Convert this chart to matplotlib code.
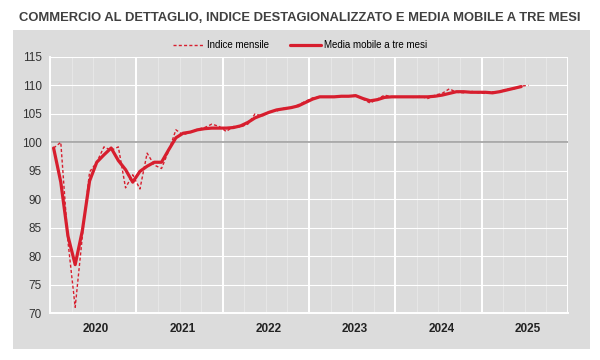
"""Commercio al dettaglio: indice destagionalizzato e media mobile a tre mesi."""

import matplotlib

matplotlib.use("Agg")
import matplotlib.pyplot as plt
from matplotlib.ticker import FixedLocator, MultipleLocator, NullFormatter

FONT = ["Liberation Sans", "DejaVu Sans"]

TITLE = "COMMERCIO AL DETTAGLIO, INDICE DESTAGIONALIZZATO E MEDIA MOBILE A TRE MESI"
YEARS = ["2020", "2021", "2022", "2023", "2024", "2025"]

# monthly index, Jan 2020 - Jul 2025
indice_mensile = [
    99.0, 100.0, 82.5, 71.0, 83.5, 94.8, 96.5, 99.2, 98.6, 99.2, 92.0, 94.3,
    91.8, 98.1, 96.0, 95.4, 98.5, 102.2, 101.3, 101.8, 102.3, 102.6, 103.2, 102.8,
    101.9, 102.8, 102.7, 103.2, 105.0, 104.6, 105.4, 105.5, 106.0, 106.0, 106.6, 107.2,
    107.8, 108.0, 108.0, 108.0, 108.1, 108.1, 108.3, 107.6, 106.9, 107.6, 108.3, 108.0,
    108.0, 108.0, 107.9, 108.1, 107.7, 108.3, 108.6, 109.4, 108.8, 108.7, 109.0, 108.7,
    108.6, 108.9, 108.9, 109.4, 109.4, 109.9, 110.0,
]

# three-month moving average, Jan 2020 - Jun 2025
media_mobile = [
    99.0, 93.0, 83.5, 78.5, 84.5, 93.2, 96.5, 97.8, 99.0, 96.8, 95.2, 93.0,
    94.9, 95.8, 96.5, 96.5, 98.7, 100.8, 101.6, 101.8, 102.2, 102.4, 102.5, 102.5,
    102.5, 102.6, 102.9, 103.5, 104.3, 104.8, 105.3, 105.7, 105.9, 106.1, 106.4, 107.0,
    107.6, 108.0, 108.0, 108.0, 108.1, 108.1, 108.2, 107.7, 107.3, 107.5, 107.9, 108.0,
    108.0, 108.0, 108.0, 108.0, 108.0, 108.1, 108.3, 108.6, 108.9, 108.9, 108.8, 108.8,
    108.8, 108.7, 108.9, 109.2, 109.5, 109.8,
]

RED = "#d71e2e"
PANEL = "#dcdcdc"


def main() -> None:
    fig = plt.figure(figsize=(6, 3.6), dpi=100)

    # grey panel behind the plot
    bg = fig.add_axes([13 / 600, 11 / 360, 577 / 600, 319 / 360], zorder=-1)
    bg.set_facecolor(PANEL)
    bg.set_xticks([])
    bg.set_yticks([])
    for spine in bg.spines.values():
        spine.set_visible(False)

    fig.text(0.5, 1 - 18 / 360, TITLE, ha="center", va="center", fontsize=9.4,
             fontweight="bold", color="#404040", family=FONT)

    ax = fig.add_axes([50 / 600, 47 / 360, 518 / 600, 256 / 360])
    ax.set_facecolor(PANEL)

    x_idx = [i + 0.5 for i in range(len(indice_mensile))]
    x_avg = [i + 0.5 for i in range(len(media_mobile))]
    ax.axhline(100, color="#a0a0a0", lw=1.2, zorder=2)
    ax.plot(x_idx, indice_mensile, color=RED, lw=1.0, ls=(0, (2.2, 1.6)),
            label="Indice mensile", zorder=3)
    ax.plot(x_avg, media_mobile, color=RED, lw=2.3, solid_capstyle="round",
            label="Media mobile a tre mesi", zorder=4)

    ax.set_xlim(0, 12 * len(YEARS))
    ax.set_ylim(70, 115)
    ax.yaxis.set_major_locator(MultipleLocator(5))
    ax.xaxis.set_major_locator(FixedLocator([12 * k for k in range(len(YEARS) + 1)]))
    ax.xaxis.set_minor_locator(MultipleLocator(3))
    ax.xaxis.set_major_formatter(NullFormatter())
    ax.grid(axis="y", color="white", lw=0.8)
    ax.grid(axis="x", which="major", color="white", lw=1.4)
    ax.grid(axis="x", which="minor", color="#e8e8e8", lw=0.6)
    ax.set_axisbelow(True)
    ax.tick_params(length=0, pad=6, labelsize=8.5, labelcolor="#333333")
    ax.tick_params(which="minor", length=0)
    for label in ax.get_yticklabels():
        label.set_family(FONT)

    for k, year in enumerate(YEARS):
        ax.text(12 * k + 6.4, 68.3, year, ha="center", va="top", fontsize=8.5,
                fontweight="bold", color="#222222", family=FONT)

    for side in ("top", "right"):
        ax.spines[side].set_visible(False)
    for side in ("left", "bottom"):
        ax.spines[side].set_color("white")
        ax.spines[side].set_linewidth(1.4)

    fig.legend(loc="center", bbox_to_anchor=(0.5, 1 - 45 / 360), ncol=2,
               frameon=False, prop={"family": FONT, "size": 7},
               handlelength=3.2, handletextpad=0.3, columnspacing=2.2)

    fig.savefig("out.png", dpi=100)
    plt.close(fig)


if __name__ == "__main__":
    main()
